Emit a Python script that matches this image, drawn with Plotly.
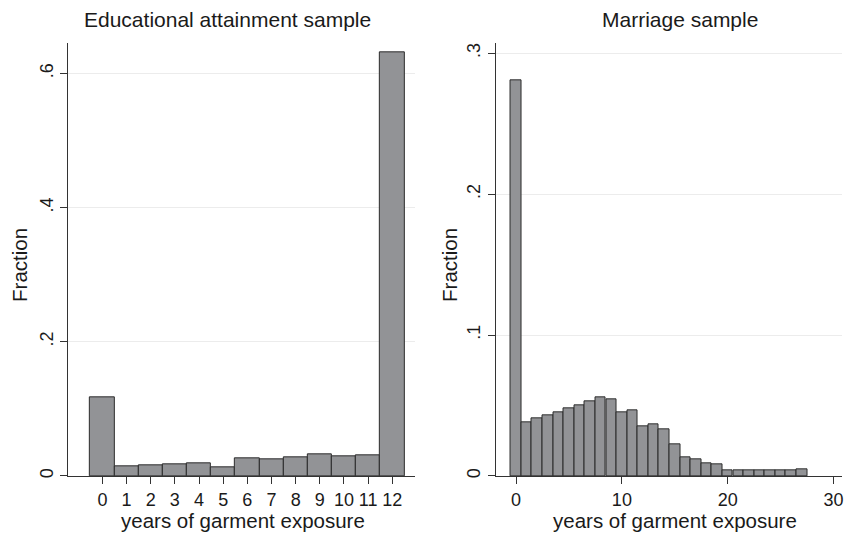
import plotly.graph_objects as go

# ---- data ----
edu_years = list(range(13))
edu_frac = [0.1175, 0.0144, 0.0164, 0.0178, 0.0188, 0.0124, 0.0258,
            0.0243, 0.0278, 0.0318, 0.0292, 0.0302, 0.631]
edu_xticks = list(range(13))
edu_yticks = [0, 0.2, 0.4, 0.6]
edu_yticktext = ["0", ".2", ".4", ".6"]

mar_years = list(range(28))
mar_frac = [0.281, 0.0378, 0.0409, 0.0433, 0.0454, 0.0480, 0.0501, 0.0530,
            0.0558, 0.0546, 0.0454, 0.0463, 0.0355, 0.0364, 0.0333, 0.0225,
            0.0130, 0.0121, 0.0092, 0.0080, 0.0038, 0.0038, 0.0038, 0.0043,
            0.0043, 0.0043, 0.0043, 0.0047]
mar_xticks = [0, 10, 20, 30]
mar_yticks = [0, 0.1, 0.2, 0.3]
mar_yticktext = ["0", ".1", ".2", ".3"]

titles = ["Educational attainment sample", "Marriage sample"]
xtitle = "years of garment exposure"
ytitle = "Fraction"

# ---- style ----
W, H = 844, 536
FONT = "Liberation Sans, Arial, Helvetica, sans-serif"
TXT = "#1a1a1a"
AX = "#333333"
BAR_FILL = "#929396"
BAR_LINE = "#2b2b2b"
GRID = "#ececec"

def px_x(p):
    return p / W

def px_y(p):
    return 1 - p / H

fig = go.Figure()
fig.add_trace(go.Bar(x=edu_years, y=edu_frac, width=1.0,
                     marker=dict(color=BAR_FILL, line=dict(color=BAR_LINE, width=1)),
                     xaxis="x", yaxis="y", showlegend=False))
fig.add_trace(go.Bar(x=mar_years, y=mar_frac, width=0.994,
                     marker=dict(color=BAR_FILL, line=dict(color=BAR_LINE, width=1)),
                     xaxis="x2", yaxis="y2", showlegend=False))

tickfont = dict(family=FONT, size=18, color=TXT)
common_x = dict(showline=True, linecolor=AX, linewidth=1, ticks="outside",
                ticklen=7, tickcolor=AX, tickwidth=1, showgrid=False,
                zeroline=False, tickfont=tickfont, ticklabeloverflow="allow")
common_y = dict(showline=True, linecolor=AX, linewidth=1, ticks="outside",
                ticklen=7, tickcolor=AX, tickwidth=1, showgrid=True,
                gridcolor=GRID, gridwidth=1, zeroline=False, tickangle=-90,
                tickfont=tickfont)

yd = [px_y(477.7), px_y(43.5)]
fig.update_layout(
    width=W, height=H,
    margin=dict(l=0, r=0, t=0, b=0),
    paper_bgcolor="white", plot_bgcolor="white",
    bargap=0,
    xaxis=dict(domain=[px_x(68), px_x(416)], range=[-1.43, 12.94],
               tickvals=edu_xticks, anchor="y", **common_x),
    yaxis=dict(domain=yd, range=[0, 0.645], tickvals=edu_yticks,
               ticktext=edu_yticktext, anchor="x", **common_y),
    xaxis2=dict(domain=[px_x(496.7), 1.0], range=[-1.94, 30.8],
                tickvals=mar_xticks, anchor="y2", **common_x),
    yaxis2=dict(domain=yd, range=[0, 0.307], tickvals=mar_yticks,
                ticktext=mar_yticktext, anchor="x2", **common_y),
)

def ann(text, x, y, size, angle=0):
    fig.add_annotation(text=text, x=px_x(x), y=px_y(y), xref="paper", yref="paper",
                       showarrow=False, xanchor="center", yanchor="middle",
                       textangle=angle, font=dict(family=FONT, size=size, color=TXT))

ann(titles[0], 228, 20, 21)
ann(titles[1], 681.7, 20, 21)
ann(xtitle, 243.5, 522, 20.5)
ann(xtitle, 677, 522, 20.5)
ann(ytitle, 19, 266, 20.5, -90)
ann(ytitle, 450, 266, 20.5, -90)

fig.write_html("out.html", config={"displayModeBar": False},
               post_script="document.body.style.margin='0';document.body.style.overflow='hidden';")
